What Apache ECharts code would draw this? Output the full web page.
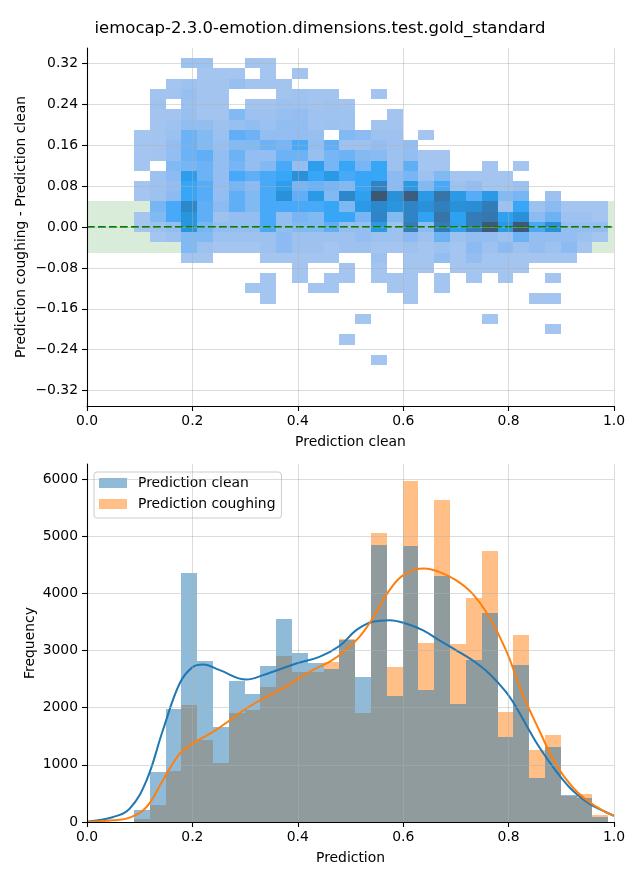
<!DOCTYPE html>
<html><head><meta charset="utf-8">
<script src="https://cdn.jsdelivr.net/npm/echarts@6.0.0/dist/echarts.min.js"></script>
<style>html,body{margin:0;padding:0;background:#fff}#chart{width:640px;height:880px}</style>
</head><body><div id="chart"></div>
<script>
// ---------------- DATA ----------------
const chartTitle = 'iemocap-2.3.0-emotion.dimensions.test.gold_standard';
// shared bin edges on the prediction axis (30 bins)
const xBinEdges = [0.089,0.119,0.149,0.179,0.209,0.239,0.269,0.299,0.329,0.359,0.389,0.419,0.449,0.479,0.509,0.539,0.569,0.599,0.629,0.659,0.689,0.719,0.749,0.779,0.809,0.839,0.869,0.899,0.929,0.959,0.989];
// difference bin edges (bottom to top)
const yBinEdges = [-0.27,-0.25,-0.23,-0.21,-0.19,-0.17,-0.15,-0.13,-0.11,-0.09,-0.07,-0.05,-0.03,-0.01,0.01,0.03,0.05,0.07,0.09,0.11,0.13,0.15,0.17,0.19,0.21,0.23,0.25,0.27,0.29,0.31,0.33];
// 2D histogram, relative cell density (0 = empty); rows listed from top (0.31..0.33) to bottom (-0.27..-0.25)
const heatRows = [
[0,0,0,5,5,0,0,4,3,0, 0,0,0,0,0,0,0,0,0,0, 0,0,0,0,0,0,0,0,0,0],
[0,0,0,0,3,3,3,0,3,0, 4,0,0,0,0,0,0,0,0,0, 0,0,0,0,0,0,0,0,0,0],
[0,0,3,6,4,4,8,4,4,4, 0,0,0,0,0,0,0,0,0,0, 0,0,0,0,0,0,0,0,0,0],
[0,4,4,8,4,4,0,0,0,4, 5,4,4,0,0,4,0,0,0,0, 0,0,0,0,0,0,0,0,0,0],
[0,5,0,7,4,4,0,4,4,6, 6,4,5,4,0,0,0,0,0,0, 0,0,0,0,0,0,0,0,0,0],
[0,4,4,8,4,4,15,6,6,8, 9,5,5,5,0,0,4,0,0,0, 0,0,0,0,0,0,0,0,0,0],
[0,4,5,10,10,6,8,10,7,10, 10,5,6,5,0,4,4,0,0,0, 0,0,0,0,0,0,0,0,0,0],
[3,4,7,21,14,7,24,21,9,9, 9,8,0,15,12,6,6,0,3,0, 0,0,0,0,0,0,0,0,0,0],
[3,4,9,21,14,8,14,15,21,18, 29,9,24,6,6,9,6,9,0,0, 0,0,0,0,0,0,0,0,0,0],
[3,4,9,21,24,9,21,9,9,21, 21,8,18,21,14,13,6,9,3,3, 0,0,0,0,0,0,0,0,0,0],
[3,0,15,18,21,9,18,9,15,29, 9,39,18,32,18,32,6,24,3,3, 0,0,3,0,3,0,0,0,0,0],
[0,6,12,39,21,9,29,24,29,32, 50,32,42,29,32,32,12,18,6,15, 3,3,3,3,0,0,0,0,0,0],
[3,6,9,32,26,9,18,12,29,39, 18,21,18,15,32,60,12,42,15,29, 6,9,3,3,6,0,0,0,0,0],
[3,6,12,32,26,9,24,15,29,50, 24,42,15,57,37,98,50,92,42,73, 42,26,42,14,18,0,6,0,0,0],
[0,18,29,57,24,12,24,15,29,29, 29,29,32,16,42,57,46,60,50,63, 50,52,66,6,32,6,12,3,3,3],
[3,15,29,46,24,6,9,9,29,9, 18,15,32,32,18,60,14,60,35,73, 36,66,70,36,50,12,21,6,6,3],
[3,6,9,46,18,9,9,9,29,9, 15,15,24,9,9,42,6,66,12,66, 37,66,96,42,96,29,50,9,9,9],
[0,3,6,15,15,6,6,6,6,12, 6,6,6,6,9,6,6,12,6,21, 6,9,9,6,21,9,9,9,6,3],
[0,0,0,15,6,3,3,3,6,12, 6,6,3,6,6,3,3,6,3,6, 3,12,6,12,6,9,6,12,3,0],
[0,0,0,3,3,0,0,0,3,3, 3,3,3,0,0,6,0,3,3,9, 3,9,3,3,3,3,3,3,0,0],
[0,0,0,0,0,0,0,0,0,0, 3,0,0,3,0,3,0,3,3,0, 3,3,3,3,3,0,0,0,0,0],
[0,0,0,0,0,0,0,0,3,0, 3,0,3,3,0,3,3,3,0,3, 0,3,0,3,0,0,3,0,0,0],
[0,0,0,0,0,0,0,3,3,0, 0,3,3,0,0,0,3,3,0,3, 0,0,0,0,0,0,0,0,0,0],
[0,0,0,0,0,0,0,0,3,0, 0,0,0,0,0,0,0,3,0,0, 0,0,0,0,0,3,3,0,0,0],
[0,0,0,0,0,0,0,0,0,0, 0,0,0,0,0,0,0,0,0,0, 0,0,0,0,0,0,0,0,0,0],
[0,0,0,0,0,0,0,0,0,0, 0,0,0,0,3,0,0,0,0,0, 0,0,3,0,0,0,0,0,0,0],
[0,0,0,0,0,0,0,0,0,0, 0,0,0,0,0,0,0,0,0,0, 0,0,0,0,0,0,3,0,0,0],
[0,0,0,0,0,0,0,0,0,0, 0,0,0,3,0,0,0,0,0,0, 0,0,0,0,0,0,0,0,0,0],
[0,0,0,0,0,0,0,0,0,0, 0,0,0,0,0,0,0,0,0,0, 0,0,0,0,0,0,0,0,0,0],
[0,0,0,0,0,0,0,0,0,0, 0,0,0,0,0,3,0,0,0,0, 0,0,0,0,0,0,0,0,0,0]
];
const bandLow = -0.05, bandHigh = 0.05;
const topYTicks = [-0.32,-0.24,-0.16,-0.08,0,0.08,0.16,0.24,0.32];

// histogram counts per bin
const cleanCounts = [205,870,1974,4360,2814,1658,2464,2236,2726,3545,2954,2776,2672,3180,2534,4845,2200,4828,2304,4303,2070,2830,3665,1480,2755,766,1310,465,420,82];
const coughCounts = [47,292,888,2044,1431,1028,1904,1956,2359,2900,2621,2620,2793,3200,1904,5050,2707,5967,3127,5635,3110,3915,4735,1920,3280,1255,1520,460,490,117];
// KDE curves (scaled to counts)
const cleanKdeX = [0,0.05,0.081,0.113,0.144,0.176,0.201,0.22,0.252,0.302,0.334,0.397,0.441,0.479,0.511,0.542,0.574,0.605,0.637,0.668,0.7,0.731,0.763,0.795,0.814,0.839,0.858,0.889,0.921,0.953,0.984,1.0];
const cleanKdeY = [5,88,235,730,1606,2429,2715,2757,2657,2494,2570,2774,2890,3080,3357,3503,3532,3474,3357,3182,3007,2832,2599,2277,2014,1606,1313,905,555,322,175,110];
const coughKdeX = [0,0.05,0.081,0.113,0.144,0.176,0.201,0.239,0.271,0.302,0.334,0.365,0.397,0.428,0.46,0.491,0.517,0.538,0.574,0.605,0.64,0.668,0.7,0.731,0.763,0.795,0.826,0.858,0.889,0.921,0.953,0.984,1.0];
const coughKdeY = [2,30,77,263,730,1198,1373,1576,1781,1986,2161,2306,2482,2657,2802,3007,3240,3503,4058,4350,4438,4378,4233,4000,3590,3007,2249,1606,1023,613,350,175,110];
const freqTicks = [0,1000,2000,3000,4000,5000,6000];

// ---------------- colormap (seaborn light->dark ramp of C0, HUSL) ----------------
const HM = [[3.240969941904521,-1.537383177570093,-0.498610760293],[-0.96924363628087,1.87596750150772,0.041555057407175],[0.055630079696993,-0.20397695888897,1.056971514242878]];
const HMi = [[0.41239079926595,0.35758433938387,0.18048078840183],[0.21263900587151,0.71516867876775,0.072192315360733],[0.019330818715591,0.11919477979462,0.95053215224966]];
const refU = 0.19783000664283, refV = 0.46831999493879, kappa = 903.2962962, eps = 0.0088564516;
function getBounds(L){const out=[];const sub1=Math.pow(L+16,3)/1560896;const sub2=sub1>eps?sub1:L/kappa;
 for(let c=0;c<3;c++){const m1=HM[c][0],m2=HM[c][1],m3=HM[c][2];
  for(const t of [0,1]){const top1=(284517*m1-94839*m3)*sub2;const top2=(838422*m3+769860*m2+731718*m1)*L*sub2-769860*t*L;const bottom=(632260*m3-126452*m2)*sub2+126452*t;out.push([top1/bottom,top2/bottom]);}}
 return out;}
function maxC(L,H){const h=H/360*Math.PI*2;let m=Infinity;for(const b of getBounds(L)){const len=b[1]/(Math.sin(h)-b[0]*Math.cos(h));if(len>=0)m=Math.min(m,len);}return m;}
function toLin(c){return c>0.04045?Math.pow((c+0.055)/1.055,2.4):c/12.92;}
function fromLin(c){return c<=0.0031308?12.92*c:1.055*Math.pow(c,1/2.4)-0.055;}
function rgbToHsluv(r,g,b){const R=toLin(r),G=toLin(g),B=toLin(b);
 const X=HMi[0][0]*R+HMi[0][1]*G+HMi[0][2]*B,Y=HMi[1][0]*R+HMi[1][1]*G+HMi[1][2]*B,Z=HMi[2][0]*R+HMi[2][1]*G+HMi[2][2]*B;
 const L=Y<=eps?Y*kappa:116*Math.cbrt(Y)-16;const d=X+15*Y+3*Z;const u=4*X/d,v=9*Y/d;
 const U=13*L*(u-refU),V=13*L*(v-refV);const C=Math.hypot(U,V);let H=Math.atan2(V,U)*180/Math.PI;if(H<0)H+=360;
 return [H,C/maxC(L,H)*100,L];}
function hsluvToHex(H,S,L){const C=maxC(L,H)/100*S;const h=H/180*Math.PI;const U=Math.cos(h)*C,V=Math.sin(h)*C;
 const vu=U/(13*L)+refU,vv=V/(13*L)+refV;const Y=L<=8?L/kappa:Math.pow((L+16)/116,3);
 const X=-(9*Y*vu)/((vu-4)*vv-vu*vv);const Z=(9*Y-15*vv*Y-vv*X)/(3*vv);
 const rgb=HM.map(m=>fromLin(m[0]*X+m[1]*Y+m[2]*Z));
 return '#'+rgb.map(c=>{const k=Math.round(Math.min(1,Math.max(0,c))*255);return (k<16?'0':'')+k.toString(16);}).join('');}
const c0=rgbToHsluv(0x1f/255,0x77/255,0xb4/255);
const cmapStops=[];
for(let s=0;s<=32;s++){const t=s/32;const j=255-Math.round(t*255);const xx=-1+2*j/293;const L=35+45*j/255;cmapStops.push(hsluvToHex(c0[0],c0[1]*Math.cos(xx),L));}

// ---------------- build series data ----------------
const nRows=heatRows.length;
const cellData=[];
heatRows.forEach((row,ri)=>{const k=nRows-1-ri;row.forEach((v,i)=>{if(v>0)cellData.push([xBinEdges[i],xBinEdges[i+1],yBinEdges[k],yBinEdges[k+1],v]);});});
const cleanBars=cleanCounts.map((c,i)=>[xBinEdges[i],xBinEdges[i+1],0,c]);
const coughBars=coughCounts.map((c,i)=>[xBinEdges[i],xBinEdges[i+1],0,c]);
const cleanKde=cleanKdeX.map((x,i)=>[x,cleanKdeY[i]]);
const coughKde=coughKdeX.map((x,i)=>[x,coughKdeY[i]]);

function rectItem(params,api,fill){
 const p0=api.coord([api.value(0),api.value(3)]);const p1=api.coord([api.value(1),api.value(2)]);
 const x0=Math.round(p0[0]),x1=Math.round(p1[0]),y0=Math.round(p0[1]),y1=Math.round(p1[1]);
 return {type:'rect',shape:{x:x0,y:y0,width:x1-x0,height:y1-y0},style:{fill:fill}};
}

const FONT='DejaVu Sans';
const gridCol='rgba(176,176,176,0.44)';
function xAx(gi,name){return {gridIndex:gi,type:'value',min:0,max:1,interval:0.2,z:10,
 name:name,nameLocation:'middle',nameGap:29,nameTextStyle:{fontFamily:FONT,fontSize:13.9,color:'#000'},
 axisLine:{show:true,onZero:false,lineStyle:{color:'#000',width:1.1}},
 axisTick:{show:true,length:5,lineStyle:{color:'#000',width:1.1}},
 axisLabel:{fontFamily:FONT,fontSize:13.9,color:'#000',margin:8,formatter:v=>v.toFixed(1)},
 splitLine:{show:true,lineStyle:{color:gridCol,width:1}}};}
function fmtTop(v){const s=Math.abs(v).toFixed(2);return v<-1e-9?'\u2212'+s:s;}

const option={
 animation:false,
 backgroundColor:'#fff',
 title:{text:chartTitle,left:'center',top:15,textStyle:{fontFamily:FONT,fontSize:16.5,fontWeight:'normal',color:'#000'}},
 grid:[{left:87,top:48,width:527,height:358},{left:87,top:464,width:527,height:358}],
 xAxis:[xAx(0,'Prediction clean'),xAx(1,'Prediction')],
 yAxis:[
  {gridIndex:0,type:'value',min:-0.35,max:0.35,z:10,name:'Prediction coughing - Prediction clean',nameLocation:'middle',nameGap:59,nameMoveOverlap:false,
   nameTextStyle:{fontFamily:FONT,fontSize:13.9,color:'#000'},
   axisLine:{show:true,onZero:false,lineStyle:{color:'#000',width:1.1}},
   axisTick:{show:true,length:5,customValues:topYTicks,lineStyle:{color:'#000',width:1.1}},
   axisLabel:{customValues:topYTicks,fontFamily:FONT,fontSize:13.9,color:'#000',margin:9,formatter:fmtTop},
   splitLine:{show:true,lineStyle:{color:gridCol,width:1}}},
  {gridIndex:1,type:'value',min:0,max:6265,z:10,name:'Frequency',nameLocation:'middle',nameGap:50,nameMoveOverlap:false,
   nameTextStyle:{fontFamily:FONT,fontSize:13.9,color:'#000'},
   axisLine:{show:true,onZero:false,lineStyle:{color:'#000',width:1.1}},
   axisTick:{show:true,length:5,customValues:freqTicks,lineStyle:{color:'#000',width:1.1}},
   axisLabel:{customValues:freqTicks,fontFamily:FONT,fontSize:13.9,color:'#000',margin:9,formatter:v=>String(Math.round(v))},
   splitLine:{show:true,lineStyle:{color:gridCol,width:1}}}
 ],
 visualMap:{type:'continuous',show:false,seriesIndex:1,dimension:4,min:0,max:100,inRange:{color:cmapStops}},
 legend:{left:94,top:472,orient:'vertical',data:['Prediction clean','Prediction coughing'],icon:'rect',itemWidth:28,itemHeight:10,itemGap:5,
  padding:[3,6,6,5],backgroundColor:'rgba(255,255,255,0.8)',borderColor:'#cccccc',borderWidth:1,borderRadius:3,
  textStyle:{fontFamily:FONT,fontSize:13.9,color:'#000',lineHeight:16,padding:[0,0,0,6]}},
 series:[
  {type:'custom',name:'band',xAxisIndex:0,yAxisIndex:0,z:1,silent:true,data:[[0,1,bandLow,bandHigh]],
   renderItem:(p,api)=>rectItem(p,api,'rgba(0,128,0,0.15)')},
  {type:'custom',name:'cells',xAxisIndex:0,yAxisIndex:0,z:2,silent:true,data:cellData,
   encode:{x:[0,1],y:[2,3]},
   renderItem:(p,api)=>rectItem(p,api,api.visual('color'))},
  {type:'line',name:'zero',xAxisIndex:0,yAxisIndex:0,z:3,silent:true,symbol:'none',data:[[0,0],[1,0]],
   lineStyle:{color:'#008000',width:2,type:[7.7,3.3]}},
  {type:'custom',name:'Prediction coughing',xAxisIndex:1,yAxisIndex:1,z:2,silent:true,data:coughBars,
   itemStyle:{color:'rgba(255,127,14,0.5)'},encode:{x:[0,1],y:[2,3]},
   renderItem:(p,api)=>rectItem(p,api,'rgba(255,127,14,0.5)')},
  {type:'custom',name:'Prediction clean',xAxisIndex:1,yAxisIndex:1,z:3,silent:true,data:cleanBars,
   itemStyle:{color:'rgba(31,119,180,0.5)'},encode:{x:[0,1],y:[2,3]},
   renderItem:(p,api)=>rectItem(p,api,'rgba(31,119,180,0.5)')},
  {type:'line',name:'kde clean',xAxisIndex:1,yAxisIndex:1,z:4,silent:true,symbol:'none',smooth:0.4,data:cleanKde,
   lineStyle:{color:'#1f77b4',width:2}},
  {type:'line',name:'kde cough',xAxisIndex:1,yAxisIndex:1,z:4,silent:true,symbol:'none',smooth:0.4,data:coughKde,
   lineStyle:{color:'#ff7f0e',width:2}}
 ]
};
const chart=echarts.init(document.getElementById('chart'),null,{renderer:'canvas'});
chart.setOption(option);
</script></body></html>
